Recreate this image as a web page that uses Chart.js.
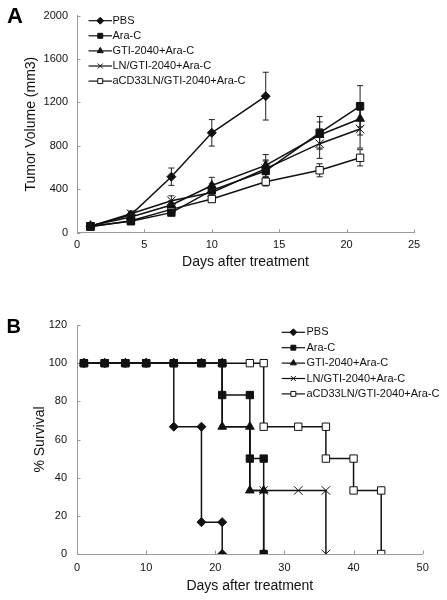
<!DOCTYPE html>
<html><head><meta charset="utf-8">
<script src="https://cdn.jsdelivr.net/npm/chart.js@4.4.0/dist/chart.umd.min.js"></script>
<style>
html,body{margin:0;padding:0;background:#fff;}
#wrap{position:relative;width:447px;height:600px;overflow:hidden;}
.panel{position:absolute;left:0;width:447px;height:300px;}
.letter{position:absolute;font-family:"Liberation Sans",Arial,sans-serif;font-weight:bold;color:#000;line-height:1;}
</style></head><body>
<div id="wrap">
 <div class="panel" style="top:0"><canvas id="chartA" width="447" height="300"></canvas></div>
 <div class="panel" style="top:300px"><canvas id="chartB" width="447" height="300"></canvas></div>
 <div class="letter" style="left:7px;top:5px;font-size:22px">A</div>
 <div class="letter" style="left:6.5px;top:316px;font-size:20px">B</div>
</div>
<script>
// ---------- Panel A: tumor volume ----------
const seriesNames = ['PBS', 'Ara-C', 'GTI-2040+Ara-C', 'LN/GTI-2040+Ara-C', 'aCD33LN/GTI-2040+Ara-C'];
const daysPBS_A = [1, 4, 7, 10, 14];
const daysA = [1, 4, 7, 10, 14, 18, 21];
const pbsVol = [60, 165, 516, 920, 1258];
const pbsErr = [10, 20, 80, 122, 220];
const araVol = [60, 105, 185, 390, 570, 920, 1165];
const araErr = [10, 20, 25, 60, 90, 150, 190];
const gtiVol = [65, 145, 255, 435, 620, 900, 1050];
const gtiErr = [10, 25, 40, 75, 100, 120, 150];
const lnVol = [60, 175, 295, 370, 590, 820, 955];
const lnErr = [10, 25, 45, 50, 80, 135, 175];
const cdVol = [55, 110, 215, 310, 470, 575, 690];
const cdErr = [8, 20, 25, 30, 40, 60, 75];
const xTicksA = [0, 5, 10, 15, 20, 25];
const yTicksA = [0, 400, 800, 1200, 1600, 2000];

// ---------- Panel B: survival ----------
const pbsDaysB = [1, 4, 7, 10, 14, 14, 18, 18, 21, 21];
const pbsSurv = [100, 100, 100, 100, 100, 66.7, 66.7, 16.7, 16.7, 0];
const araDaysB = [1, 4, 7, 10, 14, 18, 21, 21, 25, 25, 27, 27];
const araSurv = [100, 100, 100, 100, 100, 100, 100, 83.3, 83.3, 50, 50, 0];
const gtiDaysB = [1, 4, 7, 10, 14, 18, 21, 21, 25, 25, 27, 27];
const gtiSurv = [100, 100, 100, 100, 100, 100, 100, 66.7, 66.7, 33.3, 33.3, 0];
const lnDaysB = [1, 4, 7, 10, 14, 18, 21, 21, 25, 25, 27, 32, 36, 36];
const lnSurv = [100, 100, 100, 100, 100, 100, 100, 66.7, 66.7, 33.3, 33.3, 33.3, 33.3, 0];
const lnMarkerShown = [0, 0, 0, 0, 0, 0, 0, 0, 0, 0, 1, 1, 1, 1];
const cdDaysB = [1, 4, 7, 10, 14, 18, 21, 25, 27, 27, 32, 36, 36, 40, 40, 44, 44];
const cdSurv = [100, 100, 100, 100, 100, 100, 100, 100, 100, 66.7, 66.7, 66.7, 50, 50, 33.3, 33.3, 0];
const xTicksB = [0, 10, 20, 30, 40, 50];
const yTicksB = [0, 20, 40, 60, 80, 100, 120];

const FONT = '"Liberation Sans", Arial, sans-serif';
Chart.defaults.font.family = FONT;
Chart.defaults.color = '#111';

const styles = [
  {pointStyle: 'rectRot', radius: 4.5, fill: '#111'},
  {pointStyle: 'rect', radius: 5.2, fill: '#111'},
  {pointStyle: 'triangle', radius: 5, fill: '#111'},
  {pointStyle: 'crossRot', radius: 6, fill: '#111'},
  {pointStyle: 'rect', radius: 5.2, fill: '#fff'}
];
const drawOrder = [1, 0, 2, 3, 4];

function pts(xs, ys) { return xs.map((x, i) => ({x: x, y: ys[i]})); }
function makeDs(i, xs, ys, shown) {
  const s = styles[i];
  const r = shown ? shown.map(v => v ? s.radius : 0) : s.radius;
  return {
    label: seriesNames[i], data: pts(xs, ys), showLine: true,
    borderColor: '#111', borderWidth: 1.5, tension: 0, fill: false,
    pointStyle: s.pointStyle, pointRadius: r, pointHoverRadius: r,
    pointBackgroundColor: s.fill, pointBorderColor: '#111', pointBorderWidth: 1,
    order: drawOrder[i]
  };
}

function legendPlugin(cfg) {
  return {
    id: 'customLegend',
    afterDraw(chart) {
      const ctx = chart.ctx;
      ctx.save();
      chart.data.datasets.forEach((d, i) => {
        const y = cfg.y + i * cfg.dy;
        ctx.strokeStyle = '#111'; ctx.lineWidth = 1.2;
        ctx.beginPath(); ctx.moveTo(cfg.x, y); ctx.lineTo(cfg.x + cfg.len, y); ctx.stroke();
        ctx.fillStyle = d.pointBackgroundColor; ctx.strokeStyle = '#111'; ctx.lineWidth = 1;
        Chart.helpers.drawPoint(ctx, {pointStyle: d.pointStyle, radius: cfg.r, borderWidth: 1, rotation: 0}, cfg.x + cfg.len / 2, y);
        ctx.fillStyle = '#111';
        ctx.font = '11px ' + FONT;
        ctx.textBaseline = 'middle'; ctx.textAlign = 'left';
        ctx.fillText(d.label, cfg.textX, y);
      });
      ctx.restore();
    }
  };
}

const innerTicks = {
  id: 'innerTicks',
  beforeDatasetsDraw(chart) {
    const {ctx, scales: {x, y}, chartArea: a} = chart;
    ctx.save(); ctx.strokeStyle = '#999'; ctx.lineWidth = 1;
    ctx.beginPath();
    x.ticks.forEach(t => { const px = Math.round(x.getPixelForValue(t.value)) + 0.5; ctx.moveTo(px, a.bottom); ctx.lineTo(px, a.bottom - 3.5); });
    y.ticks.forEach(t => { const py = Math.round(y.getPixelForValue(t.value)) + 0.5; ctx.moveTo(a.left, py); ctx.lineTo(a.left + 3.5, py); });
    ctx.stroke(); ctx.restore();
  }
};

function errorBars(sets) {
  return {
    id: 'errbars',
    beforeDatasetsDraw(chart) {
      const {ctx, scales: {x, y}} = chart;
      ctx.save(); ctx.strokeStyle = '#222'; ctx.lineWidth = 1;
      chart.data.datasets.forEach((d, i) => {
        const errs = sets[i]; if (!errs) return;
        d.data.forEach((p, j) => {
          const px = x.getPixelForValue(p.x);
          const top = y.getPixelForValue(p.y + errs[j]);
          const bot = y.getPixelForValue(p.y - errs[j]);
          ctx.beginPath();
          ctx.moveTo(px, top); ctx.lineTo(px, bot);
          ctx.moveTo(px - 3, top); ctx.lineTo(px + 3, top);
          ctx.moveTo(px - 3, bot); ctx.lineTo(px + 3, bot);
          ctx.stroke();
        });
      });
      ctx.restore();
    }
  };
}

function axisOpts(min, max, step, tickVals, title, isX, fitSize, titlePad, tickPad) {
  return {
    type: 'linear', min: min, max: max,
    afterBuildTicks: s => { s.ticks = tickVals.map(v => ({value: v})); },
    afterFit: s => { if (isX) s.height = fitSize; else s.width = fitSize; },
    grid: {display: false, drawTicks: false},
    border: {display: true, color: '#9a9a9a', width: 1},
    ticks: {stepSize: step, padding: tickPad, maxRotation: 0, autoSkip: false, color: '#111', font: {size: 11},
      callback: v => String(v)},
    title: {display: true, text: title, color: '#111', font: {size: 14}, padding: titlePad}
  };
}

const errSetsA = [pbsErr, araErr, gtiErr, lnErr, cdErr];
new Chart(document.getElementById('chartA'), {
  type: 'scatter',
  data: {datasets: [
    makeDs(0, daysPBS_A, pbsVol), makeDs(1, daysA, araVol), makeDs(2, daysA, gtiVol),
    makeDs(3, daysA, lnVol), makeDs(4, daysA, cdVol)
  ]},
  options: {
    responsive: false, animation: false, devicePixelRatio: 1,
    layout: {padding: {left: 0, top: 11.7, right: 33, bottom: 0}},
    plugins: {legend: {display: false}, tooltip: {enabled: false}},
    scales: {
      x: axisOpts(0, 25, 5, xTicksA, 'Days after treatment', true, 67.3, {top: 0, bottom: 29.6}, 6),
      y: axisOpts(0, 2000, 400, yTicksA, 'Tumor Volume (mm3)', false, 77, {top: 23.1, bottom: 0}, 9)
    }
  },
  plugins: [innerTicks, errorBars(errSetsA), legendPlugin({x: 88.5, y: 20.7, dy: 15.1, len: 23.5, textX: 112.5, r: 3.5})]
});

new Chart(document.getElementById('chartB'), {
  type: 'scatter',
  data: {datasets: [
    makeDs(0, pbsDaysB, pbsSurv), makeDs(1, araDaysB, araSurv), makeDs(2, gtiDaysB, gtiSurv),
    makeDs(3, lnDaysB, lnSurv, lnMarkerShown), makeDs(4, cdDaysB, cdSurv)
  ]},
  options: {
    responsive: false, animation: false, devicePixelRatio: 1,
    layout: {padding: {left: 0, top: 25, right: 24.3, bottom: 0}},
    plugins: {legend: {display: false}, tooltip: {enabled: false}},
    scales: {
      x: axisOpts(0, 50, 10, xTicksB, 'Days after treatment', true, 46, {top: 0, bottom: 5.6}, 7.5),
      y: axisOpts(0, 120, 20, yTicksB, '% Survival', false, 77, {top: 31.6, bottom: 0}, 10)
    }
  },
  plugins: [innerTicks, legendPlugin({x: 281.7, y: 32.3, dy: 15.4, len: 23.3, textX: 306.5, r: 3.5})]
});
</script>
</body></html>
